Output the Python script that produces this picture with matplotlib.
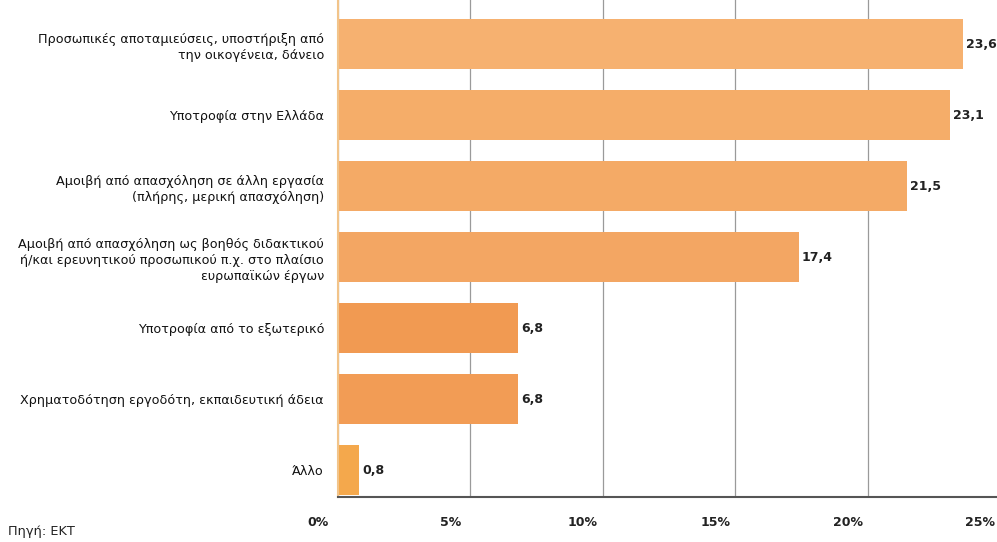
import matplotlib.pyplot as plt
import matplotlib.transforms as mtransforms
from matplotlib import font_manager

# κατηγορίες πηγών χρηματοδότησης
categories = [
    'Προσωπικές αποταμιεύσεις, υποστήριξη από\nτην οικογένεια, δάνειο',
    'Υποτροφία στην Ελλάδα',
    'Αμοιβή από απασχόληση σε άλλη εργασία\n(πλήρης, μερική απασχόληση)',
    'Αμοιβή από απασχόληση ως βοηθός διδακτικού\nή/και ερευνητικού προσωπικού π.χ. στο πλαίσιο\nευρωπαϊκών έργων',
    'Υποτροφία από το εξωτερικό',
    'Χρηματοδότηση εργοδότη, εκπαιδευτική άδεια',
    'Άλλο',
]
# ποσοστά (%)
values = [23.6, 23.1, 21.5, 17.4, 6.8, 6.8, 0.8]
value_labels = ['23,6', '23,1', '21,5', '17,4', '6,8', '6,8', '0,8']
ticks = [0, 5, 10, 15, 20, 25]
tick_labels = ['0%', '5%', '10%', '15%', '20%', '25%']
source = 'Πηγή: ΕΚΤ'

names = {f.name for f in font_manager.fontManager.ttflist}
narrow = 'Liberation Sans Narrow' if 'Liberation Sans Narrow' in names else 'DejaVu Sans'
fam = [narrow, 'DejaVu Sans']

colors = ['#f6b170', '#f5ad69', '#f4aa66', '#f3a663', '#f19a52', '#f29c55', '#f4a84c']

fig = plt.figure(figsize=(9.97, 5.42), dpi=100)
ax = fig.add_axes([338 / 997, 45 / 542, 662 / 997, 497 / 542])

y = list(range(len(values)))
ax.barh(y, values, height=0.7, color=colors, zorder=2)
for i in range(len(values)):
    ax.text(values[i] + 0.12, y[i], value_labels[i], va='center', ha='left',
            fontsize=9, fontweight='bold', family=fam, color='#222222')

ax.set_xlim(0, 25)
ax.set_ylim(6.38, -0.62)
ax.set_yticks(y)
ax.set_yticklabels(categories, family=fam, fontsize=9.2, color='#111111',
                   linespacing=1.3)
ax.tick_params(axis='y', length=0, pad=10)
ax.set_xticks(ticks)
ax.set_xticklabels(tick_labels, family=fam, fontsize=9, fontweight='bold',
                   color='#222222')
ax.tick_params(axis='x', length=0, pad=14)
offset = mtransforms.ScaledTranslation(-0.2, 0, fig.dpi_scale_trans)
for lab in ax.get_xticklabels():
    lab.set_transform(lab.get_transform() + offset)

ax.grid(axis='x', color='#9a9a9a', linewidth=0.9, zorder=1)
ax.set_axisbelow(True)
for s in ['top', 'right']:
    ax.spines[s].set_visible(False)
ax.spines['left'].set_color('#f2c48a')
ax.spines['left'].set_linewidth(1.5)
ax.spines['bottom'].set_color('#555555')
ax.spines['bottom'].set_linewidth(1.5)

fig.text(8 / 997, 1 - 532 / 542, source, family=fam, fontsize=9.3,
         color='#222222', va='center')

fig.savefig('out.png', dpi=100)
